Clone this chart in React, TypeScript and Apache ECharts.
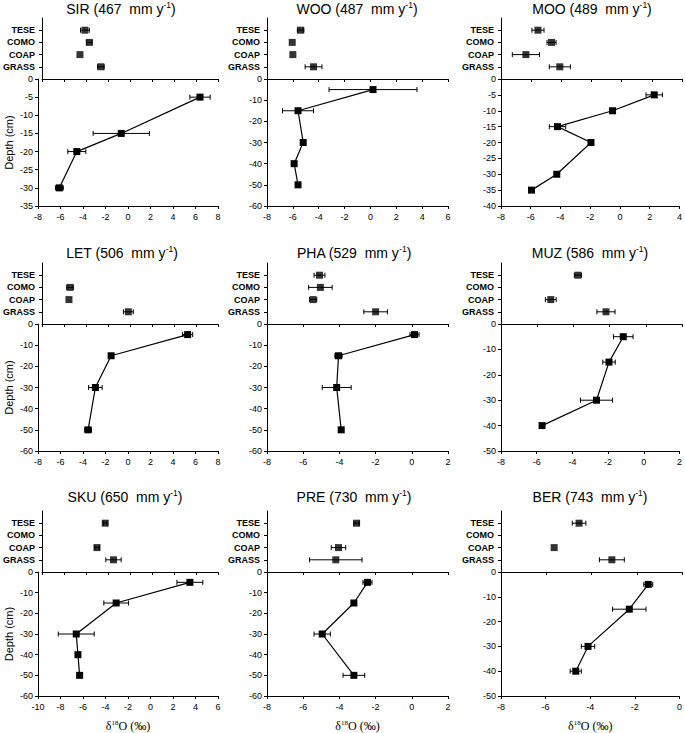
import React, { useEffect, useRef } from 'react';
import * as echarts from 'echarts';

// ---------- data ----------
const siteNames = ['SIR', 'WOO', 'MOO', 'LET', 'PHA', 'MUZ', 'SKU', 'PRE', 'BER'];
const rainfall = [467, 487, 489, 506, 529, 586, 650, 730, 743];
const vegTypes = ['TESE', 'COMO', 'COAP', 'GRASS'];

// x-axis (δ18O) ranges and depth-axis ranges per site
const xMinBySite = [-8, -8, -8, -8, -8, -8, -10, -8, -8];
const xMaxBySite = [8, 6, 4, 8, 2, 2, 6, 2, 0];
const depthMinBySite = [-35, -60, -40, -60, -60, -50, -60, -60, -50];
const depthStepBySite = [5, 10, 5, 10, 10, 10, 10, 10, 10];

// vegetation δ18O mean / sd (order: TESE, COMO, COAP, GRASS); null = not sampled
const vegMeanSIR = [-4.1, -3.7, -4.55, -2.65];
const vegSdSIR = [0.4, 0.25, 0, 0.3];
const vegMeanWOO = [-5.4, -6.05, -6.0, -4.4];
const vegSdWOO = [0.25, 0, 0, 0.65];
const vegMeanMOO = [-5.55, -4.65, -6.35, -4.1];
const vegSdMOO = [0.4, 0.3, 0.9, 0.7];
const vegMeanLET = [null, -5.45, -5.55, -0.15];
const vegSdLET = [0, 0.3, 0, 0.45];
const vegMeanPHA = [-5.1, -5.05, -5.45, -2.0];
const vegSdPHA = [0.3, 0.65, 0.2, 0.65];
const vegMeanMUZ = [-3.75, null, -5.25, -2.2];
const vegSdMUZ = [0.2, 0, 0.3, 0.5];
const vegMeanSKU = [-4.25, null, -5.0, -3.5];
const vegSdSKU = [0.15, 0, 0.2, 0.7];
const vegMeanPRE = [-3.05, null, -4.05, -4.2];
const vegSdPRE = [0.15, 0, 0.4, 1.45];
const vegMeanBER = [-4.55, null, -5.65, -3.1];
const vegSdBER = [0.3, 0, 0, 0.55];

// soil water depth profiles
const depthSIR = [-5, -15, -20, -30];
const soilMeanSIR = [6.4, -0.6, -4.55, -6.1];
const soilSdSIR = [0.9, 2.5, 0.8, 0.35];
const depthWOO = [-5, -15, -30, -40, -50];
const soilMeanWOO = [0.2, -5.6, -5.2, -5.9, -5.6];
const soilSdWOO = [3.4, 1.2, 0.1, 0.15, 0.1];
const depthMOO = [-5, -10, -15, -20, -30, -35];
const soilMeanMOO = [2.3, -0.5, -4.2, -1.95, -4.25, -5.95];
const soilSdMOO = [0.55, 0, 0.55, 0, 0, 0];
const depthLET = [-5, -15, -30, -50];
const soilMeanLET = [5.3, -1.5, -2.9, -3.55];
const soilSdLET = [0.45, 0.2, 0.6, 0.3];
const depthPHA = [-5, -15, -30, -50];
const soilMeanPHA = [0.15, -4.05, -4.15, -3.9];
const soilSdPHA = [0.25, 0.2, 0.8, 0];
const depthMUZ = [-5, -15, -30, -40];
const soilMeanMUZ = [-1.15, -1.95, -2.65, -5.7];
const soilSdMUZ = [0.55, 0.35, 0.9, 0];
const depthSKU = [-5, -15, -30, -40, -50];
const soilMeanSKU = [3.5, -3.05, -6.6, -6.45, -6.3];
const soilSdSKU = [1.15, 1.1, 1.6, 0.1, 0.1];
const depthPRE = [-5, -15, -30, -50];
const soilMeanPRE = [-2.45, -3.2, -4.95, -3.2];
const soilSdPRE = [0.25, 0, 0.45, 0.6];
const depthBER = [-5, -15, -30, -40];
const soilMeanBER = [-1.4, -2.25, -4.1, -4.65];
const soilSdBER = [0.2, 0.75, 0.3, 0.25];

const vegMeans = [vegMeanSIR, vegMeanWOO, vegMeanMOO, vegMeanLET, vegMeanPHA, vegMeanMUZ, vegMeanSKU, vegMeanPRE, vegMeanBER];
const vegSds = [vegSdSIR, vegSdWOO, vegSdMOO, vegSdLET, vegSdPHA, vegSdMUZ, vegSdSKU, vegSdPRE, vegSdBER];
const depths = [depthSIR, depthWOO, depthMOO, depthLET, depthPHA, depthMUZ, depthSKU, depthPRE, depthBER];
const soilMeans = [soilMeanSIR, soilMeanWOO, soilMeanMOO, soilMeanLET, soilMeanPHA, soilMeanMUZ, soilMeanSKU, soilMeanPRE, soilMeanBER];
const soilSds = [soilSdSIR, soilSdWOO, soilSdMOO, soilSdLET, soilSdPHA, soilSdMUZ, soilSdSKU, soilSdPRE, soilSdBER];

// ---------- layout ----------
const colLeft = [38, 267, 501];
const colRight = [218, 448, 682];
const rowTop = [18, 263, 511];
const rowZero = [79, 324, 572];
const rowBottom = [206, 451, 698];
const titleCenterX = [[121, 357, 592], [122, 354, 590], [125, 354, 590]];
const titleTop = [0, 244, 488];

const FONT = 'Liberation Sans, Arial, sans-serif';
const SERIF = 'Liberation Serif, Times New Roman, serif';
const BLACK = '#000';

const errorRender = (params: any, api: any) => {
  const m = api.value(0);
  const y = api.value(1);
  const s = api.value(2);
  if (!s) return null;
  const a = api.coord([m - s, y]);
  const b = api.coord([m + s, y]);
  const h = 2.5;
  const st = { stroke: BLACK, lineWidth: 1 };
  return {
    type: 'group',
    children: [
      { type: 'line', shape: { x1: a[0], y1: a[1], x2: b[0], y2: b[1] }, style: st },
      { type: 'line', shape: { x1: a[0], y1: a[1] - h, x2: a[0], y2: a[1] + h }, style: st },
      { type: 'line', shape: { x1: b[0], y1: b[1] - h, x2: b[0], y2: b[1] + h }, style: st },
    ],
  };
};

function buildOption() {
  const grid: any[] = [];
  const xAxis: any[] = [];
  const yAxis: any[] = [];
  const series: any[] = [];
  const title: any[] = [];
  const catData = ['_b', 'GRASS', 'COAP', 'COMO', 'TESE', '_t'];

  siteNames.forEach((name, i) => {
    const r = Math.floor(i / 3);
    const c = i % 3;
    const left = colLeft[c];
    const width = colRight[c] - colLeft[c];
    const axisLine = { show: true, onZero: false, lineStyle: { color: BLACK, width: 1 } };
    const axisTick = { show: true, length: 3, lineStyle: { color: BLACK, width: 1 } };
    const label = { color: BLACK, fontSize: 9, fontFamily: FONT };

    title.push({
      text: `{a|${name} (${rainfall[i]}  mm y}{s|-1}{a|)}`,
      left: titleCenterX[r][c],
      top: titleTop[r],
      textAlign: 'center',
      padding: 0,
      textStyle: {
        fontWeight: 'normal',
        rich: {
          a: { fontSize: 14, fontFamily: FONT, fontWeight: 'normal', color: BLACK, lineHeight: 17 },
          s: { fontSize: 8.5, fontFamily: FONT, fontWeight: 'normal', color: BLACK, lineHeight: 17, verticalAlign: 'top' },
        },
      },
    });

    // top grid: vegetation
    const gTop = grid.length;
    grid.push({ left, width, top: rowTop[r], height: rowZero[r] - rowTop[r], containLabel: false });
    xAxis.push({
      gridIndex: gTop, type: 'value', min: xMinBySite[i], max: xMaxBySite[i], interval: 2,
      axisLine, axisTick, axisLabel: { show: false }, splitLine: { show: false },
    });
    yAxis.push({
      gridIndex: gTop, type: 'category', data: catData, boundaryGap: false,
      axisLine, axisTick: { ...axisTick, interval: (idx: number) => idx >= 1 && idx <= 4 },
      axisLabel: {
        ...label, fontSize: 9, fontWeight: 'bold', interval: 0, margin: 7,
        formatter: (v: string) => (v.startsWith('_') ? '' : v),
      },
      splitLine: { show: false },
    });
    // bottom grid: soil
    const gBot = grid.length;
    grid.push({ left, width, top: rowZero[r], height: rowBottom[r] - rowZero[r], containLabel: false });
    xAxis.push({
      gridIndex: gBot, type: 'value', min: xMinBySite[i], max: xMaxBySite[i], interval: 2,
      axisLine, axisTick, axisLabel: { ...label, margin: 6 }, splitLine: { show: false },
      name: r === 2 ? '{a|δ}{s|18}{a|O (‰)}' : '',
      nameLocation: 'middle', nameGap: 23,
      nameTextStyle: {
        rich: {
          a: { fontSize: 12, fontFamily: SERIF, color: BLACK, lineHeight: 14 },
          s: { fontSize: 7, fontFamily: SERIF, color: BLACK, lineHeight: 14, verticalAlign: 'top' },
        },
      },
    });
    yAxis.push({
      gridIndex: gBot, type: 'value', min: depthMinBySite[i], max: 0, interval: depthStepBySite[i],
      axisLine, axisTick, axisLabel: { ...label, margin: 5 }, splitLine: { show: false },
      name: c === 0 ? 'Depth (cm)' : '', nameLocation: 'middle', nameRotate: 90, nameGap: 24,
      nameTextStyle: { fontSize: 11, fontFamily: FONT, color: BLACK },
    });

    const vegPts: any[] = [];
    const vegErr: any[] = [];
    vegTypes.forEach((t, k) => {
      const m = vegMeans[i][k];
      if (m === null || m === undefined) return;
      vegPts.push([m, t]);
      vegErr.push([m, t, vegSds[i][k]]);
    });
    series.push({
      type: 'custom', xAxisIndex: gTop, yAxisIndex: gTop, renderItem: errorRender,
      data: vegErr, encode: { x: 0, y: 1 }, z: 2, silent: true,
    });
    series.push({
      type: 'scatter', xAxisIndex: gTop, yAxisIndex: gTop, symbol: 'rect', symbolSize: 7,
      itemStyle: { color: BLACK }, data: vegPts, z: 3,
    });

    const soilPts = depths[i].map((d, k) => [soilMeans[i][k], d]);
    const soilErr = depths[i].map((d, k) => [soilMeans[i][k], d, soilSds[i][k]]);
    series.push({
      type: 'custom', xAxisIndex: gBot, yAxisIndex: gBot, renderItem: errorRender,
      data: soilErr, encode: { x: 0, y: 1 }, z: 2, silent: true,
    });
    series.push({
      type: 'line', xAxisIndex: gBot, yAxisIndex: gBot, symbol: 'rect', symbolSize: 7,
      showSymbol: true, lineStyle: { color: BLACK, width: 1.2 }, itemStyle: { color: BLACK },
      data: soilPts, z: 3,
    });
  });

  return { animation: false, backgroundColor: '#fff', title, grid, xAxis, yAxis, series };
}

export default function App() {
  const ref = useRef<HTMLDivElement>(null);
  useEffect(() => {
    if (!ref.current) return;
    const chart = echarts.init(ref.current, undefined, { renderer: 'svg' });
    chart.setOption(buildOption() as any);
    return () => chart.dispose();
  }, []);
  return (
    <div
      ref={ref}
      style={{ position: 'fixed', left: 0, top: 0, width: 685, height: 733, background: '#fff' }}
    />
  );
}
